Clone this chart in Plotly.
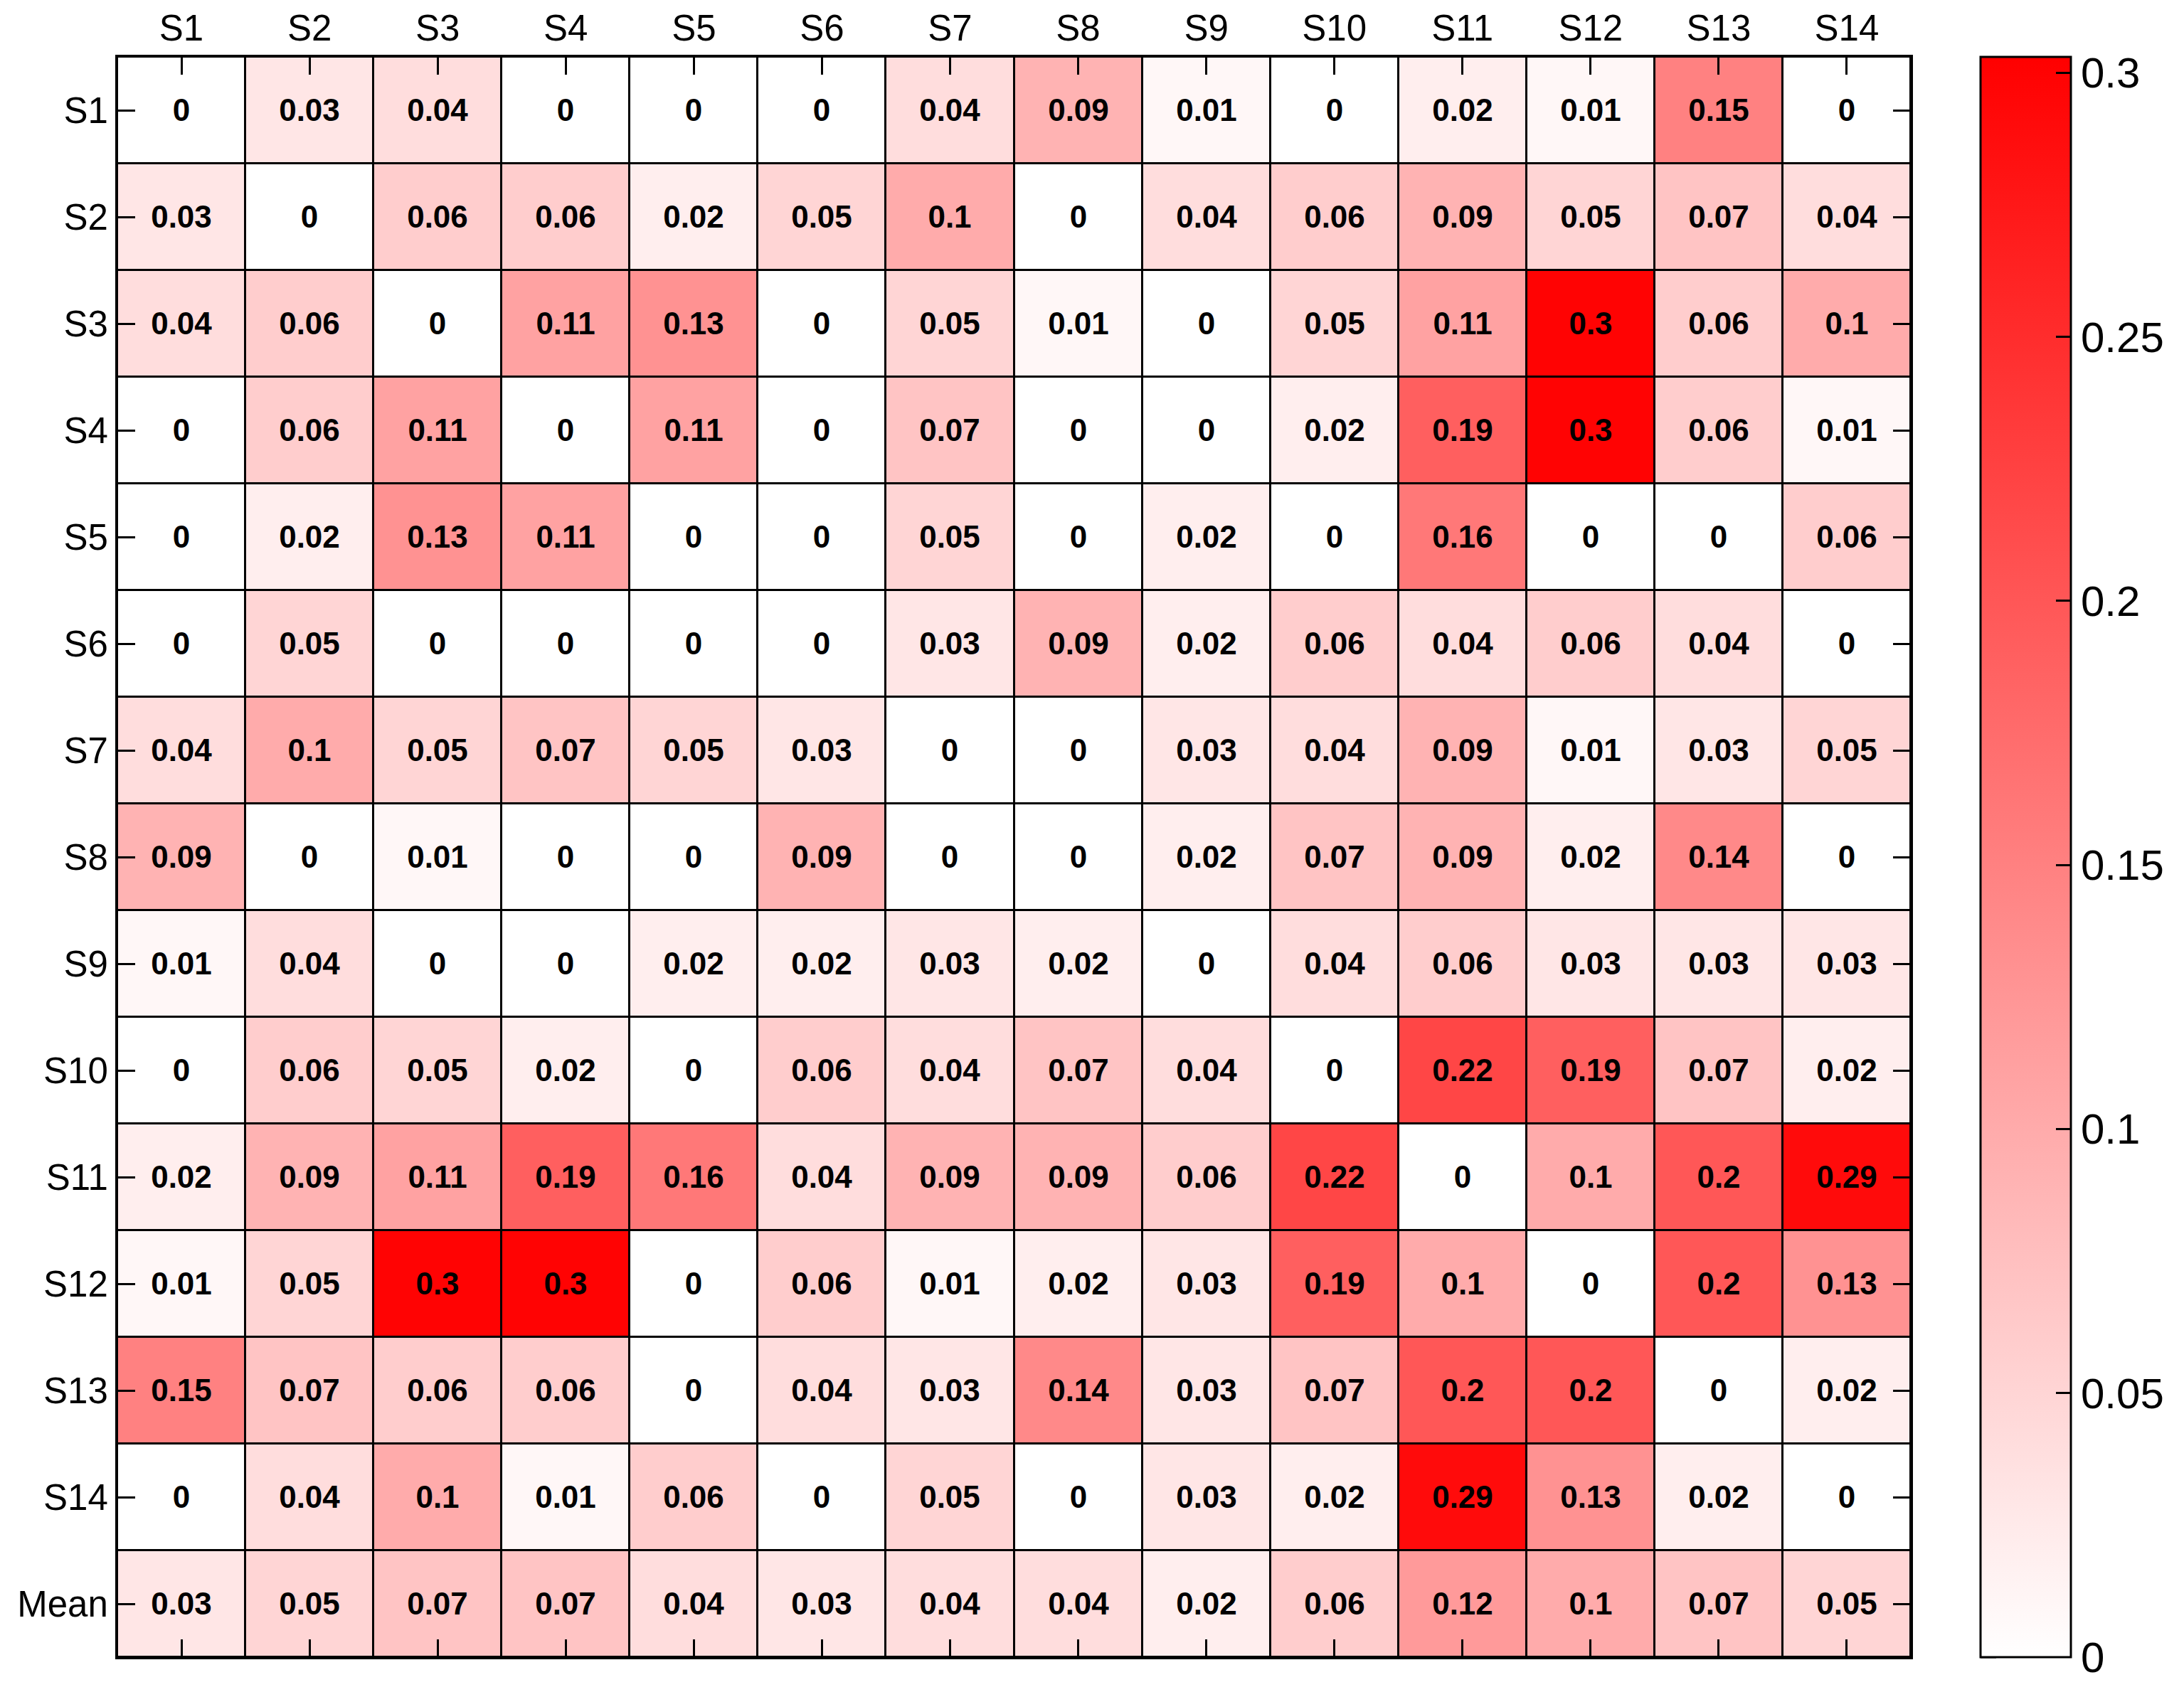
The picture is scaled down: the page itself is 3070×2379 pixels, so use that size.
import plotly.graph_objects as go

cols = ["S1","S2","S3","S4","S5","S6","S7","S8","S9","S10","S11","S12","S13","S14"]
rows = cols + ["Mean"]

r_S1  = [0, 0.03, 0.04, 0, 0, 0, 0.04, 0.09, 0.01, 0, 0.02, 0.01, 0.15, 0]
r_S2  = [0.03, 0, 0.06, 0.06, 0.02, 0.05, 0.1, 0, 0.04, 0.06, 0.09, 0.05, 0.07, 0.04]
r_S3  = [0.04, 0.06, 0, 0.11, 0.13, 0, 0.05, 0.01, 0, 0.05, 0.11, 0.3, 0.06, 0.1]
r_S4  = [0, 0.06, 0.11, 0, 0.11, 0, 0.07, 0, 0, 0.02, 0.19, 0.3, 0.06, 0.01]
r_S5  = [0, 0.02, 0.13, 0.11, 0, 0, 0.05, 0, 0.02, 0, 0.16, 0, 0, 0.06]
r_S6  = [0, 0.05, 0, 0, 0, 0, 0.03, 0.09, 0.02, 0.06, 0.04, 0.06, 0.04, 0]
r_S7  = [0.04, 0.1, 0.05, 0.07, 0.05, 0.03, 0, 0, 0.03, 0.04, 0.09, 0.01, 0.03, 0.05]
r_S8  = [0.09, 0, 0.01, 0, 0, 0.09, 0, 0, 0.02, 0.07, 0.09, 0.02, 0.14, 0]
r_S9  = [0.01, 0.04, 0, 0, 0.02, 0.02, 0.03, 0.02, 0, 0.04, 0.06, 0.03, 0.03, 0.03]
r_S10 = [0, 0.06, 0.05, 0.02, 0, 0.06, 0.04, 0.07, 0.04, 0, 0.22, 0.19, 0.07, 0.02]
r_S11 = [0.02, 0.09, 0.11, 0.19, 0.16, 0.04, 0.09, 0.09, 0.06, 0.22, 0, 0.1, 0.2, 0.29]
r_S12 = [0.01, 0.05, 0.3, 0.3, 0, 0.06, 0.01, 0.02, 0.03, 0.19, 0.1, 0, 0.2, 0.13]
r_S13 = [0.15, 0.07, 0.06, 0.06, 0, 0.04, 0.03, 0.14, 0.03, 0.07, 0.2, 0.2, 0, 0.02]
r_S14 = [0, 0.04, 0.1, 0.01, 0.06, 0, 0.05, 0, 0.03, 0.02, 0.29, 0.13, 0.02, 0]
r_Mean = [0.03, 0.05, 0.07, 0.07, 0.04, 0.03, 0.04, 0.04, 0.02, 0.06, 0.12, 0.1, 0.07, 0.05]

z = [r_S1, r_S2, r_S3, r_S4, r_S5, r_S6, r_S7, r_S8, r_S9, r_S10, r_S11, r_S12, r_S13, r_S14, r_Mean]

cb_ticks = [0, 0.05, 0.1, 0.15, 0.2, 0.25, 0.3]
cb_labels = ["0", "0.05", "0.1", "0.15", "0.2", "0.25", "0.3"]
zmax = 0.303

W, H = 3070, 2379
OFF = 8  # browser default body margin
L, R, T, B = 165 - OFF, 384 + OFF, 80 - OFF, 49 + OFF
plot_w = W - L - R
cb_left_px = 2784 - OFF
cb_thick = 127
cb_x = (cb_left_px - L) / plot_w

FONT = "Liberation Sans"

fig = go.Figure(go.Heatmap(
    z=z, x=cols, y=rows,
    zmin=0, zmax=zmax,
    colorscale=[[0, "#ffffff"], [1, "#ff0000"]],
    xgap=3, ygap=3,
    texttemplate="%{z}",
    textfont=dict(family=FONT, size=44, color="black", weight="bold"),
    hoverinfo="skip",
    colorbar=dict(
        x=cb_x, xanchor="left", y=0.5, yanchor="middle",
        len=1, lenmode="fraction",
        thickness=cb_thick, thicknessmode="pixels",
        xpad=0, ypad=0,
        outlinewidth=3, outlinecolor="black",
        tickvals=cb_ticks, ticktext=cb_labels,
        ticks="inside", ticklen=22, tickwidth=3, tickcolor="black",
        tickfont=dict(family=FONT, size=60, color="black"),
    ),
))

# mirrored ticks on the left side of the colorbar
shapes = []
for v in cb_ticks:
    yy = v / zmax
    shapes.append(dict(type="line", xref="paper", yref="paper",
                       x0=cb_x, x1=cb_x + 22 / plot_w, y0=yy, y1=yy,
                       line=dict(color="black", width=3)))

axis_common = dict(
    type="category", categoryorder="array",
    showline=True, linecolor="black", linewidth=3, mirror="allticks",
    ticks="inside", ticklen=25, tickwidth=3, tickcolor="black",
    tickfont=dict(family=FONT, size=51, color="black"),
    showgrid=False, zeroline=False, automargin=False,
)

fig.update_layout(
    width=W, height=H,
    margin=dict(l=L, r=R, t=T, b=B, pad=0, autoexpand=False),
    paper_bgcolor="white", plot_bgcolor="black",
    shapes=shapes,
    xaxis=dict(side="top", categoryarray=cols, **axis_common),
    yaxis=dict(categoryarray=rows, autorange="reversed", **axis_common),
)

fig.write_html("out.html")
